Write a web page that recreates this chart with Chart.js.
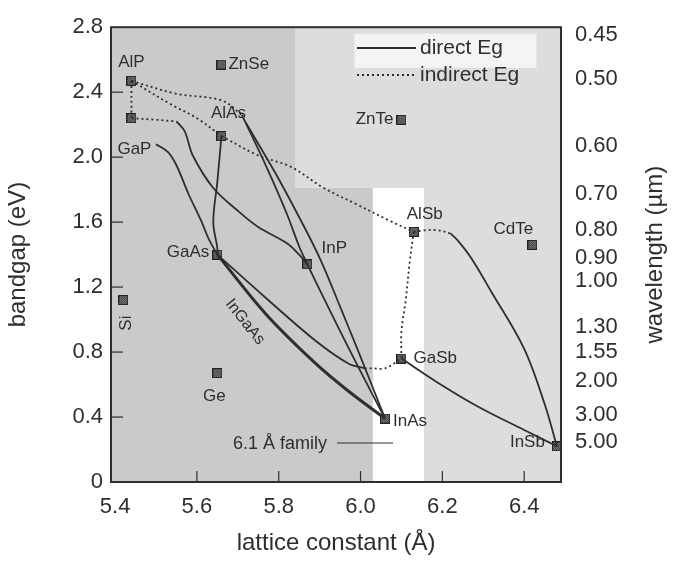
<!DOCTYPE html>
<html>
<head>
<meta charset="utf-8">
<script src="https://cdn.jsdelivr.net/npm/chart.js@4.4.0/dist/chart.umd.min.js"></script>
<style>
  html, body { margin: 0; padding: 0; background: #fff; }
</style>
</head>
<body>
<canvas id="gapChart" width="676" height="562"></canvas>
<script>
// Tick labels
const xTicks = [5.4, 5.6, 5.8, 6.0, 6.2, 6.4];
const yTicks = [0, 0.4, 0.8, 1.2, 1.6, 2.0, 2.4, 2.8];
const wavelengthTicks = [0.45, 0.50, 0.60, 0.70, 0.80, 0.90, 1.00, 1.30, 1.55, 2.00, 3.00, 5.00];

// Binary compounds: name, lattice constant (A), bandgap (eV)
const materials = ['AlP', 'GaP', 'ZnSe', 'AlAs', 'ZnTe', 'AlSb', 'CdTe', 'GaAs', 'InP', 'Si', 'Ge', 'GaSb', 'InAs', 'InSb'];
const latticeConst = [5.44, 5.44, 5.66, 5.66, 6.10, 6.13, 6.42, 5.65, 5.87, 5.42, 5.65, 6.10, 6.06, 6.48];
const bandgap = [2.47, 2.24, 2.57, 2.13, 2.23, 1.54, 1.46, 1.40, 1.34, 1.12, 0.67, 0.76, 0.39, 0.22];

// Alloy curves, [lattice constant, bandgap] -- direct gap (solid)
const directGaPGaAs = [[5.50, 2.08], [5.53, 2.03], [5.55, 1.95], [5.58, 1.77], [5.61, 1.61], [5.63, 1.49], [5.65, 1.40]];
const directGaPInP = [[5.55, 2.22], [5.57, 2.16], [5.59, 2.01], [5.64, 1.81], [5.70, 1.67], [5.75, 1.57], [5.82, 1.47], [5.85, 1.40], [5.87, 1.34]];
const directAlAsGaAs = [[5.66, 2.13], [5.65, 1.85], [5.64, 1.60], [5.65, 1.44], [5.65, 1.40]];
const directAlPInP = [[5.71, 2.26], [5.77, 1.94], [5.82, 1.65], [5.85, 1.45], [5.87, 1.34]];
const directInPInAs = [[5.87, 1.34], [5.93, 1.03], [5.99, 0.73], [6.06, 0.39]];
const directAlAsInAs = [[5.72, 2.21], [5.79, 1.91], [5.85, 1.63], [5.90, 1.38], [5.95, 1.08], [6.00, 0.77], [6.06, 0.39]];
const directGaAsInAs = [[5.65, 1.40], [5.77, 1.03], [5.89, 0.73], [5.97, 0.56], [6.06, 0.39]];
const directGaAsGaSb = [[5.65, 1.40], [5.77, 1.13], [5.89, 0.87], [5.97, 0.73], [6.01, 0.70]];
const directAlSbInSb = [[6.22, 1.53], [6.24, 1.48], [6.27, 1.38], [6.32, 1.17], [6.40, 0.82], [6.45, 0.48], [6.48, 0.22]];
const directGaSbInSb = [[6.10, 0.76], [6.19, 0.61], [6.29, 0.46], [6.40, 0.32], [6.48, 0.22]];

// Indirect gap (dotted)
const indirectAlPGaP = [[5.44, 2.47], [5.44, 2.24]];
const indirectAlPUpper = [[5.44, 2.47], [5.55, 2.39], [5.66, 2.35], [5.71, 2.26]];
const indirectAlPAlAs = [[5.44, 2.47], [5.54, 2.32], [5.60, 2.24], [5.66, 2.13]];
const indirectAlAsAlSb = [[5.66, 2.13], [5.75, 2.01], [5.83, 1.94], [5.91, 1.81], [5.99, 1.71], [6.07, 1.61], [6.13, 1.54]];
const indirectGaPInP = [[5.44, 2.24], [5.50, 2.23], [5.55, 2.22]];
const indirectAlSbGaSb = [[6.13, 1.54], [6.12, 1.35], [6.11, 1.11], [6.10, 0.93], [6.10, 0.76]];
const indirectGaSbLeft = [[6.01, 0.70], [6.03, 0.70], [6.06, 0.70], [6.10, 0.76]];
const indirectAlSbRight = [[6.13, 1.54], [6.16, 1.55], [6.19, 1.55], [6.22, 1.53]];

const directCurves = [directGaPGaAs, directGaPInP, directAlAsGaAs, directAlPInP, directInPInAs,
  directAlAsInAs, directGaAsInAs, directGaAsGaSb, directAlSbInSb, directGaSbInSb];
const indirectCurves = [indirectAlPGaP, indirectAlPUpper, indirectAlPAlAs, indirectAlAsAlSb,
  indirectGaPInP, indirectAlSbGaSb, indirectGaSbLeft, indirectAlSbRight];

// label placement next to each marker (pixels): dx, dy, align, rotation
const labelPlace = {
  AlP: [0, -18, 'center', 0], GaP: [3, 31, 'center', 0], ZnSe: [7, 0, 'left', 0],
  AlAs: [7, -23, 'center', 0], ZnTe: [-8, 0, 'right', 0], AlSb: [11, -18, 'center', 0],
  CdTe: [-19, -16, 'center', 0], GaAs: [-8, -2, 'right', 0], InP: [27, -16, 'center', 0],
  Si: [3, 23, 'center', -Math.PI / 2], Ge: [-3, 23, 'center', 0], GaSb: [12, 0, 'left', 0],
  InAs: [8, 3, 'left', 0], InSb: [-12, -4, 'right', 0]
};

const ink = '#2e2e2e';
const fontFamily = '"Liberation Sans", Arial, sans-serif';

// checkered square marker like the scanned original
function makeMarker() {
  const c = document.createElement('canvas');
  c.width = 10; c.height = 10;
  const g = c.getContext('2d');
  g.fillStyle = '#999';
  g.fillRect(0, 0, 10, 10);
  g.fillStyle = '#222';
  for (let i = 0; i < 10; i++) {
    for (let j = 0; j < 10; j++) {
      if ((i + j) % 2 === 0) g.fillRect(i, j, 1, 1);
    }
  }
  g.strokeStyle = '#222';
  g.strokeRect(0.5, 0.5, 9, 9);
  return c;
}

const toPoints = arr => arr.map(p => ({ x: p[0], y: p[1] }));

const datasets = [];
directCurves.forEach(c => datasets.push({
  data: toPoints(c), showLine: true, pointRadius: 0, borderColor: ink,
  borderWidth: c === directGaAsInAs ? 3 : 1.8, tension: 0.35, fill: false
}));
indirectCurves.forEach(c => datasets.push({
  data: toPoints(c), showLine: true, pointRadius: 0, borderColor: ink,
  borderWidth: 1.8, borderDash: [2, 3], tension: 0.35, fill: false
}));
datasets.push({
  data: materials.map((m, i) => ({ x: latticeConst[i], y: bandgap[i] })),
  showLine: false, pointStyle: makeMarker(), pointRadius: 5
});

// background shading of the plot area
const backdrop = {
  id: 'backdrop',
  beforeDatasetsDraw(chart) {
    const { ctx, chartArea: a, scales: { x, y } } = chart;
    const rect = (x0, x1, y0, y1, col) => {
      const l = x.getPixelForValue(x0), r = x.getPixelForValue(x1);
      const t = y.getPixelForValue(y1), b = y.getPixelForValue(y0);
      ctx.fillStyle = col;
      ctx.fillRect(l, t, r - l, b - t);
    };
    ctx.save();
    ctx.fillStyle = '#dddddd';
    ctx.fillRect(a.left, a.top, a.width, a.height);
    rect(5.39, 6.03, 0, 1.81, '#cacaca');
    rect(5.39, 5.84, 1.81, 2.8, '#cacaca');
    rect(6.03, 6.155, 0, 1.81, '#ffffff');
    rect(5.985, 6.43, 2.55, 2.76, '#f4f4f4');
    ctx.restore();
  },
  afterDatasetsDraw(chart) {
    const { ctx, chartArea: a, scales: { x, y } } = chart;
    ctx.save();
    // frame
    ctx.strokeStyle = ink;
    ctx.lineWidth = 2;
    ctx.strokeRect(a.left, a.top, a.width, a.height);
    // inward tick marks
    ctx.lineWidth = 1.2;
    yTicks.slice(1, -1).forEach(v => {
      const p = y.getPixelForValue(v);
      ctx.beginPath(); ctx.moveTo(a.left, p); ctx.lineTo(a.left + 12, p); ctx.stroke();
    });
    xTicks.slice(1).forEach(v => {
      const p = x.getPixelForValue(v);
      ctx.beginPath(); ctx.moveTo(p, a.bottom); ctx.lineTo(p, a.bottom - 11); ctx.stroke();
    });

    // material labels
    ctx.fillStyle = ink;
    ctx.font = '17px ' + fontFamily;
    ctx.textBaseline = 'middle';
    materials.forEach((m, i) => {
      const [dx, dy, align, rot] = labelPlace[m];
      const px = x.getPixelForValue(latticeConst[i]) + dx;
      const py = y.getPixelForValue(bandgap[i]) + dy;
      ctx.save();
      ctx.translate(px, py);
      ctx.rotate(rot);
      ctx.textAlign = align;
      ctx.fillText(m, 0, 0);
      ctx.restore();
    });

    // InGaAs along the GaAs-InAs curve
    ctx.save();
    ctx.translate(245, 322);
    ctx.rotate(0.9);
    ctx.textAlign = 'center';
    ctx.font = '16px ' + fontFamily;
    ctx.fillText('InGaAs', 0, 0);
    ctx.restore();

    // 6.1 A family marker
    ctx.textAlign = 'left';
    ctx.font = '18px ' + fontFamily;
    ctx.fillText('6.1 Å family', 233, 444);
    ctx.lineWidth = 1.2;
    ctx.beginPath(); ctx.moveTo(337, 443); ctx.lineTo(393, 443); ctx.stroke();

    // legend
    ctx.lineWidth = 1.8;
    ctx.setLineDash([]);
    ctx.beginPath(); ctx.moveTo(357, 48); ctx.lineTo(416, 48); ctx.stroke();
    ctx.setLineDash([2, 3]);
    ctx.beginPath(); ctx.moveTo(357, 75); ctx.lineTo(416, 75); ctx.stroke();
    ctx.setLineDash([]);
    ctx.font = '21px ' + fontFamily;
    ctx.fillText('direct Eg', 420, 48);
    ctx.fillText('indirect Eg', 420, 75);

    // right axis title, reading bottom to top
    ctx.save();
    ctx.translate(655, (a.top + a.bottom) / 2);
    ctx.rotate(-Math.PI / 2);
    ctx.textAlign = 'center';
    ctx.font = '24px ' + fontFamily;
    ctx.fillText('wavelength (µm)', 0, 0);
    ctx.restore();
    ctx.restore();
  }
};

new Chart(document.getElementById('gapChart'), {
  type: 'scatter',
  data: { datasets: datasets },
  options: {
    responsive: false,
    animation: false,
    events: [],
    layout: { padding: { top: 20, left: 0, right: 0, bottom: 0 } },
    plugins: { legend: { display: false }, tooltip: { enabled: false } },
    scales: {
      x: {
        type: 'linear', position: 'bottom', min: 5.39, max: 6.49,
        afterBuildTicks: s => { s.ticks = xTicks.map(v => ({ value: v })); },
        afterFit: s => { s.height = 80; },
        ticks: { callback: v => v.toFixed(1), padding: 12, autoSkip: false, maxRotation: 0,
          color: ink, font: { size: 22, family: fontFamily } },
        grid: { display: false, drawTicks: false },
        border: { display: false },
        title: { display: true, text: 'lattice constant (Å)', color: ink,
          font: { size: 24, family: fontFamily }, padding: { top: 0, bottom: 4 } }
      },
      y: {
        type: 'linear', position: 'left', min: 0, max: 2.8,
        afterBuildTicks: s => { s.ticks = yTicks.map(v => ({ value: v })); },
        afterFit: s => { s.width = 111; },
        ticks: { callback: v => v === 0 ? '0' : v.toFixed(1), padding: 8, autoSkip: false,
          color: ink, font: { size: 22, family: fontFamily } },
        grid: { display: false, drawTicks: false },
        border: { display: false },
        title: { display: true, text: 'bandgap (eV)', color: ink,
          font: { size: 24, family: fontFamily }, padding: { top: 4, bottom: 0 } }
      },
      y2: {
        type: 'linear', position: 'right', min: 0, max: 2.8,
        afterBuildTicks: s => { s.ticks = wavelengthTicks.map(w => ({ value: 1.2398 / w })); },
        afterFit: s => { s.width = 115; },
        ticks: { callback: (v, i) => wavelengthTicks[i].toFixed(2), padding: 14, autoSkip: false,
          color: ink, font: { size: 22, family: fontFamily } },
        grid: { display: false, drawTicks: false },
        border: { display: false }
      }
    }
  },
  plugins: [backdrop]
});
</script>
</body>
</html>
